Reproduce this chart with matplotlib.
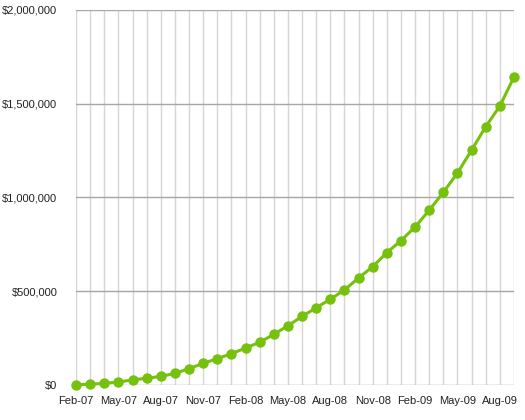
import matplotlib
matplotlib.use("Agg")
import matplotlib.pyplot as plt
from matplotlib.ticker import FuncFormatter

plt.rcParams['font.family'] = ['Liberation Sans', 'DejaVu Sans']

# monthly values, Feb-07 .. Sep-09
months = ['Feb-07', 'Mar-07', 'Apr-07', 'May-07', 'Jun-07', 'Jul-07', 'Aug-07', 'Sep-07',
          'Oct-07', 'Nov-07', 'Dec-07', 'Jan-08', 'Feb-08', 'Mar-08', 'Apr-08', 'May-08',
          'Jun-08', 'Jul-08', 'Aug-08', 'Sep-08', 'Oct-08', 'Nov-08', 'Dec-08', 'Jan-09',
          'Feb-09', 'Mar-09', 'Apr-09', 'May-09', 'Jun-09', 'Jul-09', 'Aug-09', 'Sep-09']
values = [2000, 4000, 9000, 16000, 27000, 36000, 46000, 62000,
          87000, 116000, 140000, 167000, 197000, 228000, 270000, 316000,
          366000, 412000, 457000, 507000, 571000, 631000, 706000, 770000,
          843000, 932000, 1028000, 1131000, 1253000, 1378000, 1488000, 1643000]
yticks = [0, 500000, 1000000, 1500000, 2000000]

fig = plt.figure(figsize=(5.25, 4.2), dpi=100)
ax = fig.add_axes([76/525, 1 - 385/420, (514-76)/525, 375/420])

x = list(range(len(months)))
for i in x:
    ax.axvline(i, color='#d6d6d6', lw=1, zorder=1)
for v in yticks:
    ax.axhline(v, color='#a6a6a6', lw=1, zorder=1)

ax.plot(x, values, color='#76c00e', lw=2.2, marker='o', markersize=7.5,
        markeredgewidth=0, zorder=3, clip_on=False)

ax.set_xlim(0, len(months) - 1)
ax.set_ylim(0, 2000000)
ax.set_yticks(yticks)
ax.yaxis.set_major_formatter(FuncFormatter(lambda v, p: '${:,.0f}'.format(v)))
ax.set_xticks(x[::3])
ax.set_xticklabels(months[::3])
ax.tick_params(length=0, labelsize=8, colors='#222222')
ax.tick_params(axis='y', pad=13.5)
ax.tick_params(axis='x', pad=8)
for s in ax.spines.values():
    s.set_visible(False)

fig.savefig('out.png', dpi=100)
